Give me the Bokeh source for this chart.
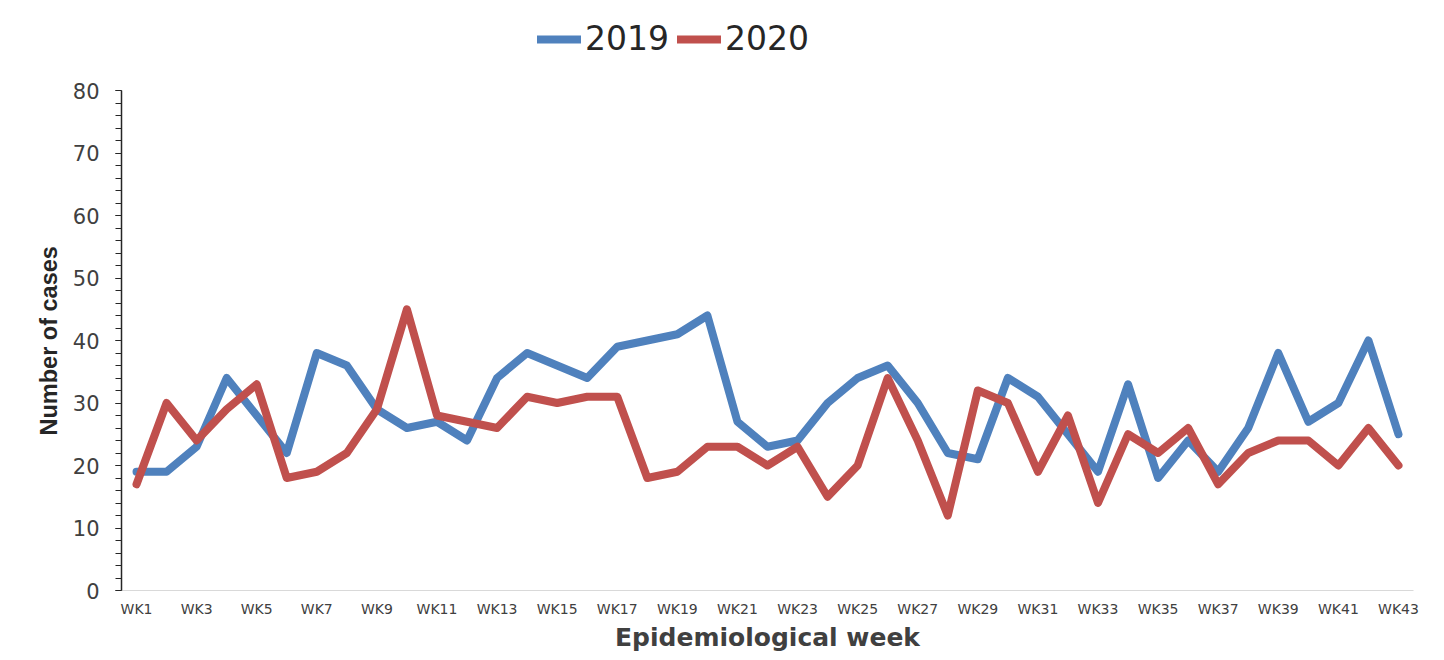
from bokeh.plotting import figure
from bokeh.models import (ColumnDataSource, FixedTicker, SingleIntervalTicker,
                          Legend, LegendItem, Range1d, Title)
from bokeh.embed import file_html
from bokeh.resources import INLINE

weeks = list(range(1, 44))
week_labels = ["WK%d" % w for w in weeks]
cases_2019 = [19, 19, 23, 34, 28, 22, 38, 36, 29, 26, 27, 24, 34, 38, 36, 34, 39, 40, 41, 44,
              27, 23, 24, 30, 34, 36, 30, 22, 21, 34, 31, 25, 19, 33, 18, 24, 19, 26, 38, 27,
              30, 40, 25]
cases_2020 = [17, 30, 24, 29, 33, 18, 19, 22, 29, 45, 28, 27, 26, 31, 30, 31, 31, 18, 19, 23,
              23, 20, 23, 15, 20, 34, 24, 12, 32, 30, 19, 28, 14, 25, 22, 26, 17, 22, 24, 24,
              20, 26, 20]
series_names = ["2019", "2020"]
colors = ["#4F81BD", "#C0504D"]
y_max = 80

src = ColumnDataSource(dict(x=weeks, y2019=cases_2019, y2020=cases_2020))

# frame spans image y 10..590; value 80 sits at y 90 (500 px for 80 units)
top_pad = y_max * 80 / 500
p = figure(width=1428, height=656, output_backend="svg", toolbar_location=None,
           x_range=Range1d(0.5, 43.5), y_range=Range1d(0, y_max + top_pad),
           min_border_left=121, min_border_right=15, min_border_top=10, min_border_bottom=66)
p.outline_line_color = None
p.xgrid.visible = False
p.ygrid.visible = False
p.background_fill_color = "white"
p.border_fill_color = "white"

r1 = p.line("x", "y2019", source=src, line_color=colors[0], line_width=8,
            line_join="round", line_cap="round")
r2 = p.line("x", "y2020", source=src, line_color=colors[1], line_width=8,
            line_join="round", line_cap="round")

# x axis
xa = p.xaxis[0]
xa.ticker = FixedTicker(ticks=weeks[::2])
xa.major_label_overrides = {w: lab for w, lab in zip(weeks, week_labels)}
xa.major_tick_line_color = None
xa.minor_tick_line_color = None
xa.axis_line_color = "#d9d9d9"
xa.axis_line_width = 1
xa.major_label_text_font = "DejaVu Sans"
xa.major_label_text_font_size = "14px"
xa.major_label_text_color = "#404040"
xa.major_label_standoff = 4
xa.axis_label = "Epidemiological week"
xa.axis_label_text_font = "DejaVu Sans"
xa.axis_label_text_font_style = "bold"
xa.axis_label_text_font_size = "25px"
xa.axis_label_text_color = "#404040"
xa.axis_label_standoff = 3

# y axis
ya = p.yaxis[0]
ya.ticker = SingleIntervalTicker(interval=10, num_minor_ticks=5)
ya.bounds = (0, y_max)
ya.axis_line_color = "#262626"
ya.axis_line_width = 1.5
ya.major_tick_line_color = "#262626"
ya.minor_tick_line_color = "#262626"
ya.major_tick_in = 0
ya.major_tick_out = 6
ya.minor_tick_in = 0
ya.minor_tick_out = 6
ya.major_label_text_font = "DejaVu Sans"
ya.major_label_text_font_size = "21px"
ya.major_label_text_color = "#404040"
ya.major_label_standoff = 16

# y-axis title placed beside the 0..80 span (not the whole frame)
ytitle = Title(text="Number of cases", align="left", offset=155, standoff=15,
               text_font="Liberation Sans", text_font_style="bold",
               text_font_size="23.5px", text_color="#262626")
p.add_layout(ytitle, "left")

legend = Legend(items=[LegendItem(label=series_names[0], renderers=[r1]),
                       LegendItem(label=series_names[1], renderers=[r2])],
                orientation="horizontal", location=(416, 532),
                padding=0, margin=0, spacing=8, label_standoff=4,
                glyph_width=44, glyph_height=36, label_height=36,
                label_text_font="DejaVu Sans", label_text_font_size="33px",
                label_text_color="#262626",
                border_line_color=None, background_fill_alpha=0)
p.add_layout(legend, "center")

open("out.html", "w").write(file_html(p, INLINE))
